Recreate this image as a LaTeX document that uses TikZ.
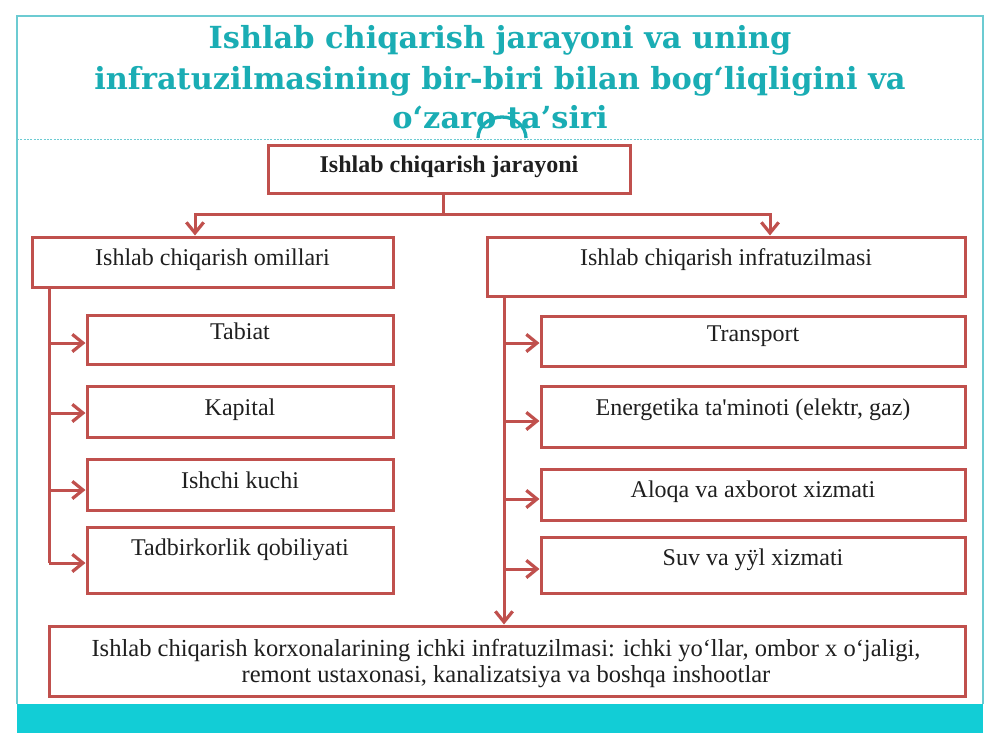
\documentclass[tikz,border=0pt]{standalone}
\usepackage{fontspec}
\setmainfont{Liberation Serif}[Ligatures=TeXOff]
\newfontfamily\titlefont{DejaVu Serif}[Ligatures=TeXOff]
\usetikzlibrary{arrows.meta,fit}
\definecolor{boxred}{HTML}{C0504D}
\definecolor{tealtitle}{HTML}{1AADB4}
\definecolor{cyanbar}{HTML}{12CDD6}
\definecolor{framecol}{HTML}{6CCBD2}
\tikzset{
  box/.style={draw=boxred, line width=2.25pt, inner sep=0pt, fill=white},
  txt/.style={font=\fontsize{18}{21}\selectfont, anchor=base, inner sep=0pt, text=black!88},
  conn/.style={draw=boxred, line width=2.25pt},
  arr/.style={conn, -{Straight Barb[length=8pt,width=13pt,line width=2.4pt]}},
  titletxt/.style={font=\titlefont\bfseries\fontsize{22.8}{26}\selectfont, text=tealtitle, anchor=base, inner sep=0pt},
}
\begin{document}
\begin{tikzpicture}[x=0.75pt,y=-0.75pt]
\useasboundingbox (0,0) rectangle (1000,750);
\fill[white] (0,0) rectangle (1000,750);
% slide frame
\fill[cyanbar] (17,704) rectangle (983,733);
\draw[framecol, line width=1.2pt] (17,704) -- (17,16) -- (983,16) -- (983,704);
\draw[framecol, line width=0.7pt, dash pattern=on 1.5pt off 1pt] (17,139) -- (983,139);
% title
\node[titletxt] (t1) at (500,48) {Ishlab chiqarish jarayoni va uning};
\node[titletxt] (t2) at (500,89) {infratuzilmasining bir-biri bilan bog‘liqligini va};
\node[titletxt] (t3) at (500,128) {o‘zaro ta’siri};
\draw[tealtitle, line width=2.5pt] (478,138) arc[start angle=180, end angle=360, x radius=24, y radius=21];
% boxes
\node[box, fit={(268,145) (630,193)}] (top) {};
\node[box, fit={(32,237) (393,287)}] (omil) {};
\node[box, fit={(487,237) (965,296)}] (infra) {};
\node[box, fit={(87,315) (393,364)}] (tabiat) {};
\node[box, fit={(87,386) (393,437)}] (kapital) {};
\node[box, fit={(87,459) (393,510)}] (ishchi) {};
\node[box, fit={(87,527) (393,593)}] (tadbir) {};
\node[box, fit={(541,316) (965,366)}] (transport) {};
\node[box, fit={(541,386) (965,447)}] (energ) {};
\node[box, fit={(541,469) (965,520)}] (aloqa) {};
\node[box, fit={(541,537) (965,593)}] (suv) {};
\node[box, fit={(49,626) (965,696)}] (ichki) {};
% texts
\node[txt, font=\fontsize{18}{21}\selectfont\bfseries] (ttop) at (449,172) {Ishlab chiqarish jarayoni};
\node[txt] (tomil) at (212.5,265) {Ishlab chiqarish omillari};
\node[txt] (tinfra) at (726,265) {Ishlab chiqarish infratuzilmasi};
\node[txt] (ttab) at (240,339) {Tabiat};
\node[txt] (tkap) at (240,415) {Kapital};
\node[txt] (tish) at (240,488) {Ishchi kuchi};
\node[txt] (ttad) at (240,555) {Tadbirkorlik qobiliyati};
\node[txt] (ttr) at (753,341) {Transport};
\node[txt] (ten) at (753,415) {Energetika ta'minoti (elektr, gaz)};
\node[txt] (tal) at (753,497) {Aloqa va axborot xizmati};
\node[txt] (tsuv) at (753,565) {Suv va yӱl xizmati};
\node[txt, align=center, font=\fontsize{18.4}{19}\selectfont] (tich) at (506,682) {Ishlab chiqarish korxonalarining ichki infratuzilmasi: ichki yo‘llar, ombor x o‘jaligi,\\remont ustaxonasi, kanalizatsiya va boshqa inshootlar};
% connectors
\coordinate (split) at (443,214);
\draw[conn] (top.south -| split) -- (split);
\draw[arr] (split) -| (omil.north -| 195,0);
\draw[arr] (split) -| (infra.north -| 770,0);
% left column
\coordinate (lv) at (49,563);
\draw[conn] (omil.south -| lv) -- (lv);
\draw[arr] (49,343) -- (tabiat.west |- 0,343);
\draw[arr] (49,413) -- (kapital.west |- 0,413);
\draw[arr] (49,490) -- (ishchi.west |- 0,490);
\draw[arr] (lv) -- (tadbir.west |- lv);
% right column
\coordinate (rv) at (504,343);
\draw[arr] (infra.south -| rv) -- (ichki.north -| rv);
\draw[arr] (rv) -- (transport.west |- rv);
\draw[arr] (504,421) -- (energ.west |- 0,421);
\draw[arr] (504,499) -- (aloqa.west |- 0,499);
\draw[arr] (504,569) -- (suv.west |- 0,569);
\end{tikzpicture}
\end{document}
